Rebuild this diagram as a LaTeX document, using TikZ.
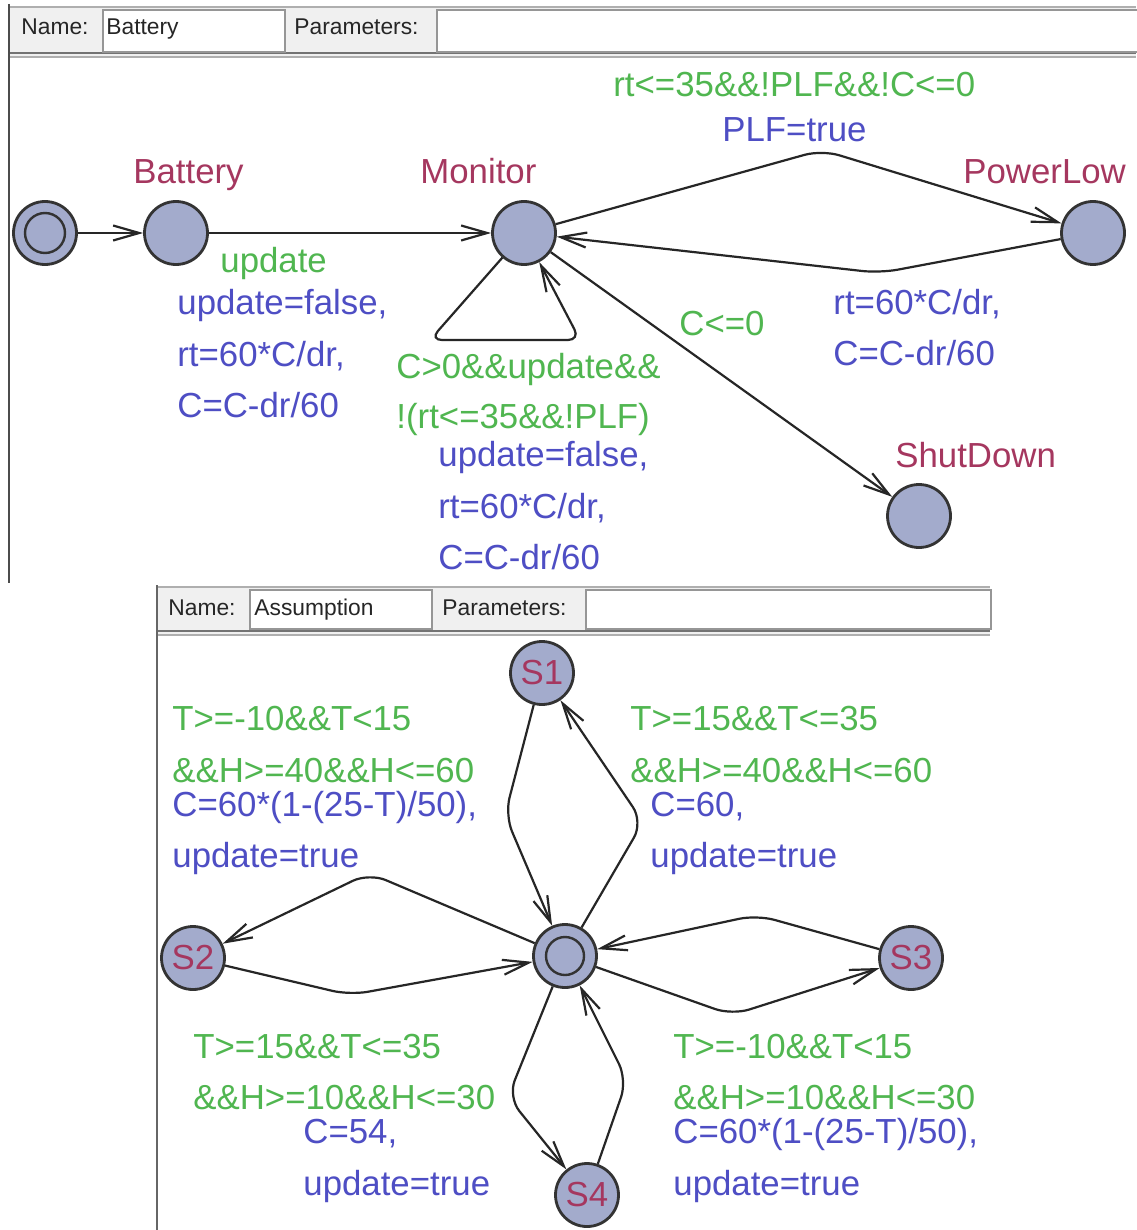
\documentclass[tikz,border=0pt]{standalone}
\usepackage{fontspec}
\setmainfont{Liberation Sans}
\usetikzlibrary{arrows.meta}
\definecolor{locfill}{RGB}{163,171,204}
\definecolor{locname}{RGB}{165,55,95}
\definecolor{guardc}{RGB}{80,182,80}
\definecolor{assignc}{RGB}{78,78,196}
\definecolor{hdrbg}{RGB}{240,240,240}
\definecolor{hdrline}{RGB}{175,175,175}
\definecolor{boxline}{RGB}{150,150,150}
\begin{document}
\begin{tikzpicture}[x=0.5pt,y=-0.5pt,
  loc/.style={circle, draw=black!80, line width=1.4pt, fill=locfill, minimum size=31.5pt, inner sep=0pt},
  innerloc/.style={circle, draw=black!80, line width=1.2pt, fill=locfill, minimum size=20pt, inner sep=0pt},
  conn/.style={draw=black!85, line width=1.1pt, rounded corners=9pt,
    -{Straight Barb[length=13pt,width=7.5pt,line width=1.1pt]}},
  lbl/.style={anchor=base west, inner sep=0pt, font=\fontsize{17.4pt}{20pt}\selectfont},
  nametxt/.style={lbl, text=locname},
  guardtxt/.style={lbl, text=guardc},
  assigntxt/.style={lbl, text=assignc},
  hdrtxt/.style={anchor=base west, inner sep=0pt, font=\fontsize{11.4pt}{13pt}\selectfont, text=black!85},
  fieldbox/.style={draw=boxline, fill=white, line width=0.8pt, anchor=north west, inner sep=0pt}
]
\useasboundingbox (0,0) rectangle (1136,1230);
\fill[white] (0,0) rectangle (1136,1230);

% ---------- top panel header ----------
\fill[hdrbg] (9,6) rectangle (1136,56);
\draw[hdrline, line width=1pt] (9,7) -- (1136,7);
\draw[black!55, line width=1pt] (9,53) -- (1136,53);
\draw[hdrline, line width=0.8pt] (9,57) -- (1136,57);
\draw[black!70, line width=1pt] (9,4) -- (9,583);
\node[fieldbox, minimum width=91pt, minimum height=21pt] (nbox1) at (102,9) {};
\node[fieldbox, minimum width=352pt, minimum height=21pt] (pbox1) at (436,9) {};
\node[hdrtxt] (nlab1) at (21,35) {Name:};
\node[hdrtxt] (nval1) at (106,35) {Battery};
\node[hdrtxt] (plab1) at (294,35) {Parameters:};

% ---------- top panel locations ----------
\node[loc] (init) at (45,233) {};
\node[innerloc] (initin) at (45,233) {};
\node[loc] (bat) at (176,233) {};
\node[loc] (mon) at (524,233) {};
\node[loc] (pl) at (1093,233) {};
\node[loc] (sd) at (919,516) {};

\node[nametxt] (lbat) at (133,184) {Battery};
\node[nametxt] (lmon) at (420,184) {Monitor};
\node[nametxt] (lpl) at (963,184) {PowerLow};
\node[nametxt] (lsd) at (895,467) {ShutDown};

% ---------- top panel edges ----------
\coordinate (pk1) at (822,150);
\coordinate (dp1) at (880,273);
\coordinate (lp1) at (430,340);
\coordinate (lp2) at (580,340);
\draw[conn] (init) -- (bat);
\draw[conn] (bat) -- (mon);
\draw[conn] (mon) -- (pk1) -- (pl);
\draw[conn] (pl) -- (dp1) -- (mon);
\draw[conn, rounded corners=6pt] (mon) -- (lp1) -- (lp2) -- (mon);
\draw[conn] (mon) -- (sd);

% ---------- top panel labels ----------
\node[guardtxt] (g1) at (613,97) {rt<=35\&\&!PLF\&\&!C<=0};
\node[assigntxt] (a1) at (722,142) {PLF=true};
\node[guardtxt] (g2) at (220,272) {update};
\node[assigntxt] (a2) at (177,314) {update=false,};
\node[assigntxt] (a3) at (177,366) {rt=60*C/dr,};
\node[assigntxt] (a4) at (177,417) {C=C-dr/60};
\node[guardtxt] (g3) at (679,335) {C<=0};
\node[assigntxt] (a5) at (833,314) {rt=60*C/dr,};
\node[assigntxt] (a6) at (833,365) {C=C-dr/60};
\node[guardtxt] (g4) at (396,378) {C>0\&\&update\&\&};
\node[guardtxt] (g5) at (396,428) {!(rt<=35\&\&!PLF)};
\node[assigntxt] (a7) at (438,466) {update=false,};
\node[assigntxt] (a8) at (438,518) {rt=60*C/dr,};
\node[assigntxt] (a9) at (438,569) {C=C-dr/60};

% ---------- bottom panel header ----------
\fill[white] (157,585) rectangle (1136,1230);
\fill[hdrbg] (157,586) rectangle (990,634);
\draw[hdrline, line width=1pt] (157,587) -- (990,587);
\draw[black!55, line width=1pt] (157,631) -- (990,631);
\draw[hdrline, line width=0.8pt] (157,635) -- (990,635);
\draw[black!60, line width=1pt] (157,585) -- (157,1230);
\node[fieldbox, minimum width=91pt, minimum height=19.5pt] (nbox2) at (249,589) {};
\node[fieldbox, minimum width=202.5pt, minimum height=19.5pt] (pbox2) at (585,589) {};
\node[hdrtxt] (nlab2) at (168,615) {Name:};
\node[hdrtxt] (nval2) at (254,615) {Assumption};
\node[hdrtxt] (plab2) at (442,615) {Parameters:};

% ---------- bottom panel locations ----------
\node[loc] (c2) at (565,956) {};
\node[innerloc, minimum size=19pt] (c2in) at (565,956) {};
\node[loc, text=locname, font=\fontsize{17.4pt}{20pt}\selectfont] (s1) at (542,673) {S1};
\node[loc, text=locname, font=\fontsize{17.4pt}{20pt}\selectfont] (s2) at (193,958) {S2};
\node[loc, text=locname, font=\fontsize{17.4pt}{20pt}\selectfont] (s3) at (911,958) {S3};
\node[loc, text=locname, font=\fontsize{17.4pt}{20pt}\selectfont] (s4) at (587,1195) {S4};

% ---------- bottom panel edges ----------
\coordinate (b1) at (505,815);
\coordinate (b2) at (643,822);
\coordinate (b3) at (369,873);
\coordinate (b4) at (350,995);
\coordinate (b5) at (757,915);
\coordinate (b6) at (732,1015);
\coordinate (b7) at (508,1097);
\coordinate (b8) at (627,1080);
\draw[conn] (s1) -- (b1) -- (c2);
\draw[conn] (c2) -- (b2) -- (s1);
\draw[conn] (c2) -- (b3) -- (s2);
\draw[conn] (s2) -- (b4) -- (c2);
\draw[conn] (s3) -- (b5) -- (c2);
\draw[conn] (c2) -- (b6) -- (s3);
\draw[conn] (c2) -- (b7) -- (s4);
\draw[conn] (s4) -- (b8) -- (c2);

% ---------- bottom panel labels ----------
\node[guardtxt] (q1) at (172,730) {T>=-10\&\&T<15};
\node[guardtxt] (q2) at (172,782) {\&\&H>=40\&\&H<=60};
\node[assigntxt] (q3) at (172,816) {C=60*(1-(25-T)/50),};
\node[assigntxt] (q4) at (172,867) {update=true};

\node[guardtxt] (r1) at (630,730) {T>=15\&\&T<=35};
\node[guardtxt] (r2) at (630,782) {\&\&H>=40\&\&H<=60};
\node[assigntxt] (r3) at (650,816) {C=60,};
\node[assigntxt] (r4) at (650,867) {update=true};

\node[guardtxt] (u1) at (193,1058) {T>=15\&\&T<=35};
\node[guardtxt] (u2) at (193,1109) {\&\&H>=10\&\&H<=30};
\node[assigntxt] (u3) at (303,1143) {C=54,};
\node[assigntxt] (u4) at (303,1195) {update=true};

\node[guardtxt] (v1) at (673,1058) {T>=-10\&\&T<15};
\node[guardtxt] (v2) at (673,1109) {\&\&H>=10\&\&H<=30};
\node[assigntxt] (v3) at (673,1143) {C=60*(1-(25-T)/50),};
\node[assigntxt] (v4) at (673,1195) {update=true};
\end{tikzpicture}
\end{document}
